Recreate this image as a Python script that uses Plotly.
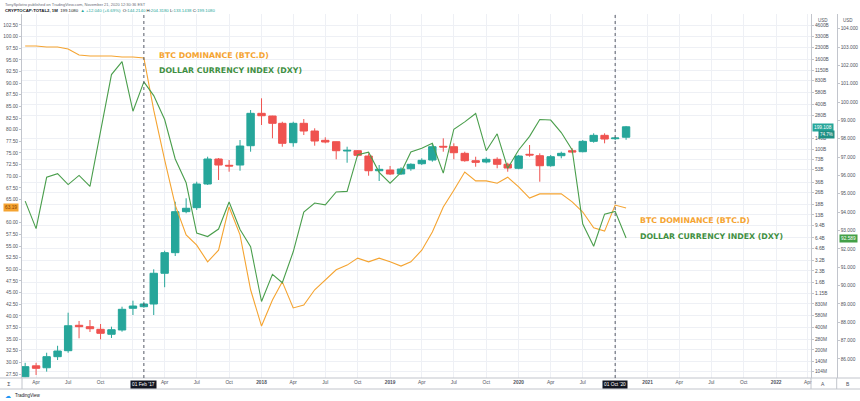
import plotly.graph_objects as go

# ---------------- data ----------------
months = [
    "2016-03-01", "2016-04-01", "2016-05-01", "2016-06-01", "2016-07-01", "2016-08-01",
    "2016-09-01", "2016-10-01", "2016-11-01", "2016-12-01",
    "2017-01-01", "2017-02-01", "2017-03-01", "2017-04-01", "2017-05-01", "2017-06-01",
    "2017-07-01", "2017-08-01", "2017-09-01", "2017-10-01", "2017-11-01", "2017-12-01",
    "2018-01-01", "2018-02-01", "2018-03-01", "2018-04-01", "2018-05-01", "2018-06-01",
    "2018-07-01", "2018-08-01", "2018-09-01", "2018-10-01", "2018-11-01", "2018-12-01",
    "2019-01-01", "2019-02-01", "2019-03-01", "2019-04-01", "2019-05-01", "2019-06-01",
    "2019-07-01", "2019-08-01", "2019-09-01", "2019-10-01", "2019-11-01", "2019-12-01",
    "2020-01-01", "2020-02-01", "2020-03-01", "2020-04-01", "2020-05-01", "2020-06-01",
    "2020-07-01", "2020-08-01", "2020-09-01", "2020-10-01", "2020-11-01",
]

# CRYPTOCAP:TOTAL2 monthly candles (billions USD)
total2_open = [
    0.087, 0.122, 0.115, 0.162, 0.195, 0.428, 0.410, 0.378, 0.324, 0.370,
    0.724, 0.761, 0.827, 2.14, 4.05, 14.4, 16.3, 33.9, 73.5, 60.5, 61.0, 110.9,
    302.1, 277.9, 221.7, 121.7, 221.7, 174.7, 131.0, 125.5, 94.1, 95.0, 80.6, 51.1,
    52.3, 46.2, 54.4, 63.5, 71.2, 108.8, 107.5, 87.6, 69.7, 67.0, 72.8, 62.4,
    55.1, 85.0, 81.4, 59.7, 81.4, 95.0, 92.1, 127.0, 152.9, 137.7, 144.2,
]
total2_high = [
    0.134, 0.134, 0.183, 0.227, 0.632, 0.489, 0.504, 0.445, 0.410, 0.761,
    0.916, 0.888, 2.42, 4.30, 19.6, 21.8, 36.4, 78.9, 75.7, 71.2, 132.2, 334.5,
    480.8, 280.0, 233.0, 233.0, 253.3, 190.0, 143.8, 126.0, 107.5, 97.0, 87.6, 61.0,
    59.2, 56.8, 64.3, 75.1, 119.4, 139.4, 119.4, 92.1, 78.9, 77.4, 77.4, 65.5,
    83.2, 113.3, 87.6, 83.2, 92.1, 102.3, 132.2, 162.7, 162.7, 146.5, 204.3,
]
total2_low = [
    0.086, 0.092, 0.102, 0.146, 0.183, 0.286, 0.348, 0.277, 0.289, 0.351,
    0.588, 0.737, 0.588, 1.39, 3.65, 13.7, 15.2, 32.9, 38.4, 49.6, 51.1, 92.1,
    210.4, 139.4, 107.5, 107.5, 154.3, 110.9, 119.4, 72.8, 65.5, 78.9, 43.8, 37.2,
    44.8, 44.8, 51.1, 61.0, 67.6, 92.1, 72.8, 67.6, 57.9, 64.3, 55.1, 49.6,
    53.4, 78.9, 36.4, 57.9, 75.1, 87.6, 90.4, 121.7, 119.4, 132.2, 133.1,
]
total2_close = [
    0.119, 0.113, 0.162, 0.193, 0.422, 0.410, 0.385, 0.334, 0.373, 0.702,
    0.777, 0.827, 2.14, 4.05, 14.4, 16.0, 33.9, 73.5, 61.0, 59.2, 109.8, 302.1,
    280.5, 221.7, 119.4, 221.7, 174.7, 128.2, 124.3, 95.0, 96.1, 82.4, 51.1, 53.4,
    46.2, 53.9, 62.4, 70.6, 107.5, 106.5, 89.3, 69.7, 66.3, 72.8, 62.4, 55.6,
    80.6, 83.2, 59.7, 78.9, 87.6, 91.2, 127.0, 152.9, 136.4, 140.7, 199.1,
]

# BTC dominance (%), left scale
btc_dominance = [
    97.99, 97.99, 97.77, 97.77, 97.34, 96.05, 95.84, 95.84, 95.84, 95.62,
    95.62, 95.41, 84.2, 73.5, 63.8, 57.4, 55.2, 51.6, 54.1, 63.4, 57.4, 45.6,
    37.8, 43.4, 47.3, 41.7, 42.3, 45.6, 47.7, 49.9, 50.9, 52.4, 51.6, 52.4,
    51.6, 50.7, 51.6, 54.1, 58.0, 63.4, 67.0, 70.9, 69.0, 69.0, 68.5, 69.8,
    67.7, 65.3, 66.2, 66.2, 66.2, 64.5, 62.3, 58.9, 58.2, 63.8, 63.19,
]

# Dollar currency index, far-right scale
dxy = [
    94.6, 93.1, 95.9, 96.1, 95.5, 96.0, 95.4, 98.4, 101.5, 102.2,
    99.5, 101.1, 100.35, 99.05, 96.9, 95.6, 92.86, 92.67, 93.08, 94.55, 93.05, 92.12,
    89.13, 90.61, 90.15, 91.84, 94.0, 94.5, 94.4, 95.1, 95.13, 97.13, 97.27, 96.17,
    95.58, 96.16, 97.28, 97.48, 97.75, 96.13, 98.52, 98.92, 99.38, 97.35, 98.27, 96.39,
    97.39, 98.13, 99.05, 99.02, 98.34, 97.39, 93.35, 92.14, 93.89, 94.04, 92.59,
]

# axis ticks
x_tick_dates = [
    "2016-04-01", "2016-07-01", "2016-10-01", "2017-01-01", "2017-04-01", "2017-07-01",
    "2017-10-01", "2018-01-01", "2018-04-01", "2018-07-01", "2018-10-01", "2019-01-01",
    "2019-04-01", "2019-07-01", "2019-10-01", "2020-01-01", "2020-04-01", "2020-07-01",
    "2020-10-01", "2021-01-01", "2021-04-01", "2021-07-01", "2021-10-01", "2022-01-01",
    "2022-04-01",
]
x_tick_text = [
    "Apr", "Jul", "Oct", "", "Apr", "Jul", "Oct", "<b>2018</b>", "Apr", "Jul",
    "Oct", "<b>2019</b>", "Apr", "Jul", "Oct", "<b>2020</b>", "Apr", "Jul", "",
    "<b>2021</b>", "Apr", "Jul", "Oct", "<b>2022</b>", "Apr",
]
cap_tick_vals = [0.104, 0.14, 0.2, 0.28, 0.4, 0.58, 0.83, 1.15, 1.6, 2.3, 3.2, 4.6, 6.4,
                 9.4, 13, 18, 26, 36, 53, 73, 100, 140, 280, 400, 580, 830, 1150, 1600,
                 2300, 3300, 4600]
cap_tick_text = ["104M", "140M", "200M", "280M", "400M", "580M", "830M", "1.15B", "1.6B",
                 "2.3B", "3.2B", "4.6B", "6.4B", "9.4B", "13B", "18B", "26B", "36B", "53B",
                 "73B", "100B", "140B", "280B", "400B", "580B", "830B", "1150B", "1600B",
                 "2300B", "3300B", "4600B"]
dom_tick_vals = [27.5, 30, 32.5, 35, 37.5, 40, 42.5, 45, 47.5, 50, 52.5, 55, 57.5, 60,
                 65, 67.5, 70, 72.5, 75, 77.5, 80, 82.5, 85, 87.5, 90, 92.5, 95,
                 97.5, 100, 102.5]
dxy_tick_vals = [86, 87, 88, 89, 90, 91, 92, 93, 94, 95, 96, 97, 98, 99, 100, 101, 102,
                 103, 104]

# ---------------- styling ----------------
GREEN_C = "#26a69a"
RED_C = "#ef5350"
ORANGE = "#f5a431"
DXY_GREEN = "#4a9e4c"
TXT = "#50535e"
GRID = "#eef0f5"
AXL = "#c2c5cc"
FONT = "DejaVu Sans"
TFONT = "Liberation Sans"

W, H = 860, 401
ML, MR, MT, MB = 22, 0, 14, 23
PW, PH = W - ML - MR, H - MT - MB


def pxx(x):
    return (x - ML) / PW


def pxy(y):
    return (H - MB - y) / PH


fig = go.Figure()

fig.add_trace(go.Candlestick(
    x=months, open=total2_open, high=total2_high, low=total2_low, close=total2_close,
    yaxis="y", whiskerwidth=0,
    increasing=dict(line=dict(color=GREEN_C, width=1), fillcolor=GREEN_C),
    decreasing=dict(line=dict(color=RED_C, width=1), fillcolor=RED_C),
    showlegend=False, hoverinfo="skip",
))
fig.add_trace(go.Scatter(
    x=months, y=btc_dominance, yaxis="y2", mode="lines",
    line=dict(color=ORANGE, width=1.1), showlegend=False, hoverinfo="skip",
))
fig.add_trace(go.Scatter(
    x=months, y=dxy, yaxis="y3", mode="lines",
    line=dict(color=DXY_GREEN, width=1.1), showlegend=False, hoverinfo="skip",
))

tickfont = dict(family=TFONT, size=4.8, color=TXT)

fig.update_layout(
    template="none",
    width=W, height=H,
    margin=dict(l=ML, r=MR, t=MT, b=MB, pad=0),
    paper_bgcolor="white", plot_bgcolor="white",
    boxgap=0.25, boxgroupgap=0,
    xaxis=dict(
        domain=[0, 789 / PW], type="date",
        range=["2016-02-21", "2022-04-10"],
        tickmode="array", tickvals=x_tick_dates, ticktext=x_tick_text,
        tickfont=tickfont, ticks="", showgrid=True, gridcolor=GRID, gridwidth=1,
        showline=False, zeroline=False, rangeslider=dict(visible=False),
        automargin=False, fixedrange=True,
    ),
    yaxis=dict(
        type="log", range=[-1.077, 3.815], side="right", anchor="x",
        tickmode="array", tickvals=cap_tick_vals, ticktext=cap_tick_text,
        tickfont=tickfont, ticks="outside", ticklen=2, tickcolor=AXL,
        showgrid=True, gridcolor=GRID, gridwidth=1,
        showline=True, linecolor=AXL, linewidth=1, zeroline=False, automargin=False,
    ),
    yaxis2=dict(
        overlaying="y", side="left", anchor="x", range=[26.64, 104.86],
        tickmode="array", tickvals=dom_tick_vals,
        ticktext=[f"{v:.2f}" for v in dom_tick_vals],
        tickfont=tickfont, ticks="outside", ticklen=2, tickcolor=AXL,
        showgrid=False, showline=True, linecolor=AXL, linewidth=1, zeroline=False,
        automargin=False,
    ),
    yaxis3=dict(
        overlaying="y", side="right", anchor="free", position=814.7 / PW,
        range=[84.96, 104.80],
        tickmode="array", tickvals=dxy_tick_vals,
        ticktext=[f"{v:.3f}" for v in dxy_tick_vals],
        tickfont=tickfont, ticks="outside", ticklen=2, tickcolor=AXL,
        showgrid=False, showline=True, linecolor=AXL, linewidth=1, zeroline=False,
        automargin=False,
    ),
)

shapes = []
# time axis strip borders
for yy in (378, 389):
    shapes.append(dict(type="line", xref="paper", yref="paper", x0=pxx(0), x1=pxx(860),
                       y0=pxy(yy), y1=pxy(yy), line=dict(color=AXL, width=1)))
for xx in (22, 811, 836.7):
    shapes.append(dict(type="line", xref="paper", yref="paper", x0=pxx(xx), x1=pxx(xx),
                       y0=pxy(378), y1=pxy(389), line=dict(color=AXL, width=1)))
# dotted markers
for d in ("2017-02-01", "2020-10-01"):
    shapes.append(dict(type="line", xref="x", yref="paper", x0=d, x1=d, y0=0, y1=1,
                       line=dict(color="#555a66", width=1, dash="dot")))
fig.update_layout(shapes=shapes)

ann = []


def label(x, y, text, size=5, color=TXT, xanchor="center", bg=None, family=TFONT, **kw):
    d = dict(xref="paper", yref="paper", x=pxx(x), y=pxy(y), text=text, showarrow=False,
             xanchor=xanchor, yanchor="middle",
             font=dict(family=family, size=size, color=color))
    if bg:
        d.update(bgcolor=bg, borderpad=1)
    d.update(kw)
    ann.append(d)


# big text labels
for (lx, ly1, ly2) in ((156.7, 55.3, 70.7), (637.7, 220.7, 236.7)):
    label(lx, ly1, "<b>BTC DOMINANCE (BTC.D)</b>", size=7.8, color=ORANGE,
          xanchor="left", family=FONT)
    label(lx, ly2, "<b>DOLLAR CURRENCY INDEX (DXY)</b>", size=7.8, color="#3f8f42",
          xanchor="left", family=FONT)

# header
label(3, 4, "TonySpilotro published on TradingView.com, November 21, 2020 12:30:36 EST",
      size=4, color="#6a6d78", xanchor="left")
label(3, 10.5, "<b>CRYPTOCAP:TOTAL2, 1M</b>  199.1080  <span style='color:#26a69a'>▲ +12.040 (+6.69%)</span>"
      "  O:<span style='color:#26a69a'>144.2140</span> H:<span style='color:#26a69a'>204.3180</span>"
      " L:<span style='color:#26a69a'>133.1438</span> C:<span style='color:#26a69a'>199.1080</span>",
      size=4.3, color="#131722", xanchor="left")

# date boxes on time axis
label(143.5, 384, "01 Feb '17", size=4.8, color="white", bg="#131722")
label(614.5, 384, "01 Oct '20", size=4.8, color="white", bg="#131722")

# axis corner labels
label(9, 384, "Σ", size=5.5, color=TXT, family=FONT)
label(823, 384, "A", size=5, color=TXT)
label(848, 384, "B", size=5, color=TXT)
label(823, 20, "USD", size=4.5, color=TXT)
label(848, 20, "USD", size=4.5, color=TXT)

# last value tags
label(11, 207.7, "63.19", size=4.8, color="#8a4200", bg=ORANGE)
label(823, 127, "199.108", size=4.8, color="white", bg=GREEN_C)
label(826, 134, "74.7%", size=4.5, color="white", bg="#1f8f84")
label(848, 238.3, "92.589", size=4.8, color="white", bg="#43a047")

# logo
label(8, 395, "☁", size=6, color="#2196f3", family=FONT)
label(13, 395, "TradingView", size=4.5, color="#131722", xanchor="left")

fig.update_layout(annotations=ann)

fig.write_html(
    "out.html",
    config={"displayModeBar": False, "staticPlot": True},
    post_script="document.body.style.margin='0px';document.body.style.padding='0px';"
                "document.body.style.overflow='hidden';",
)
